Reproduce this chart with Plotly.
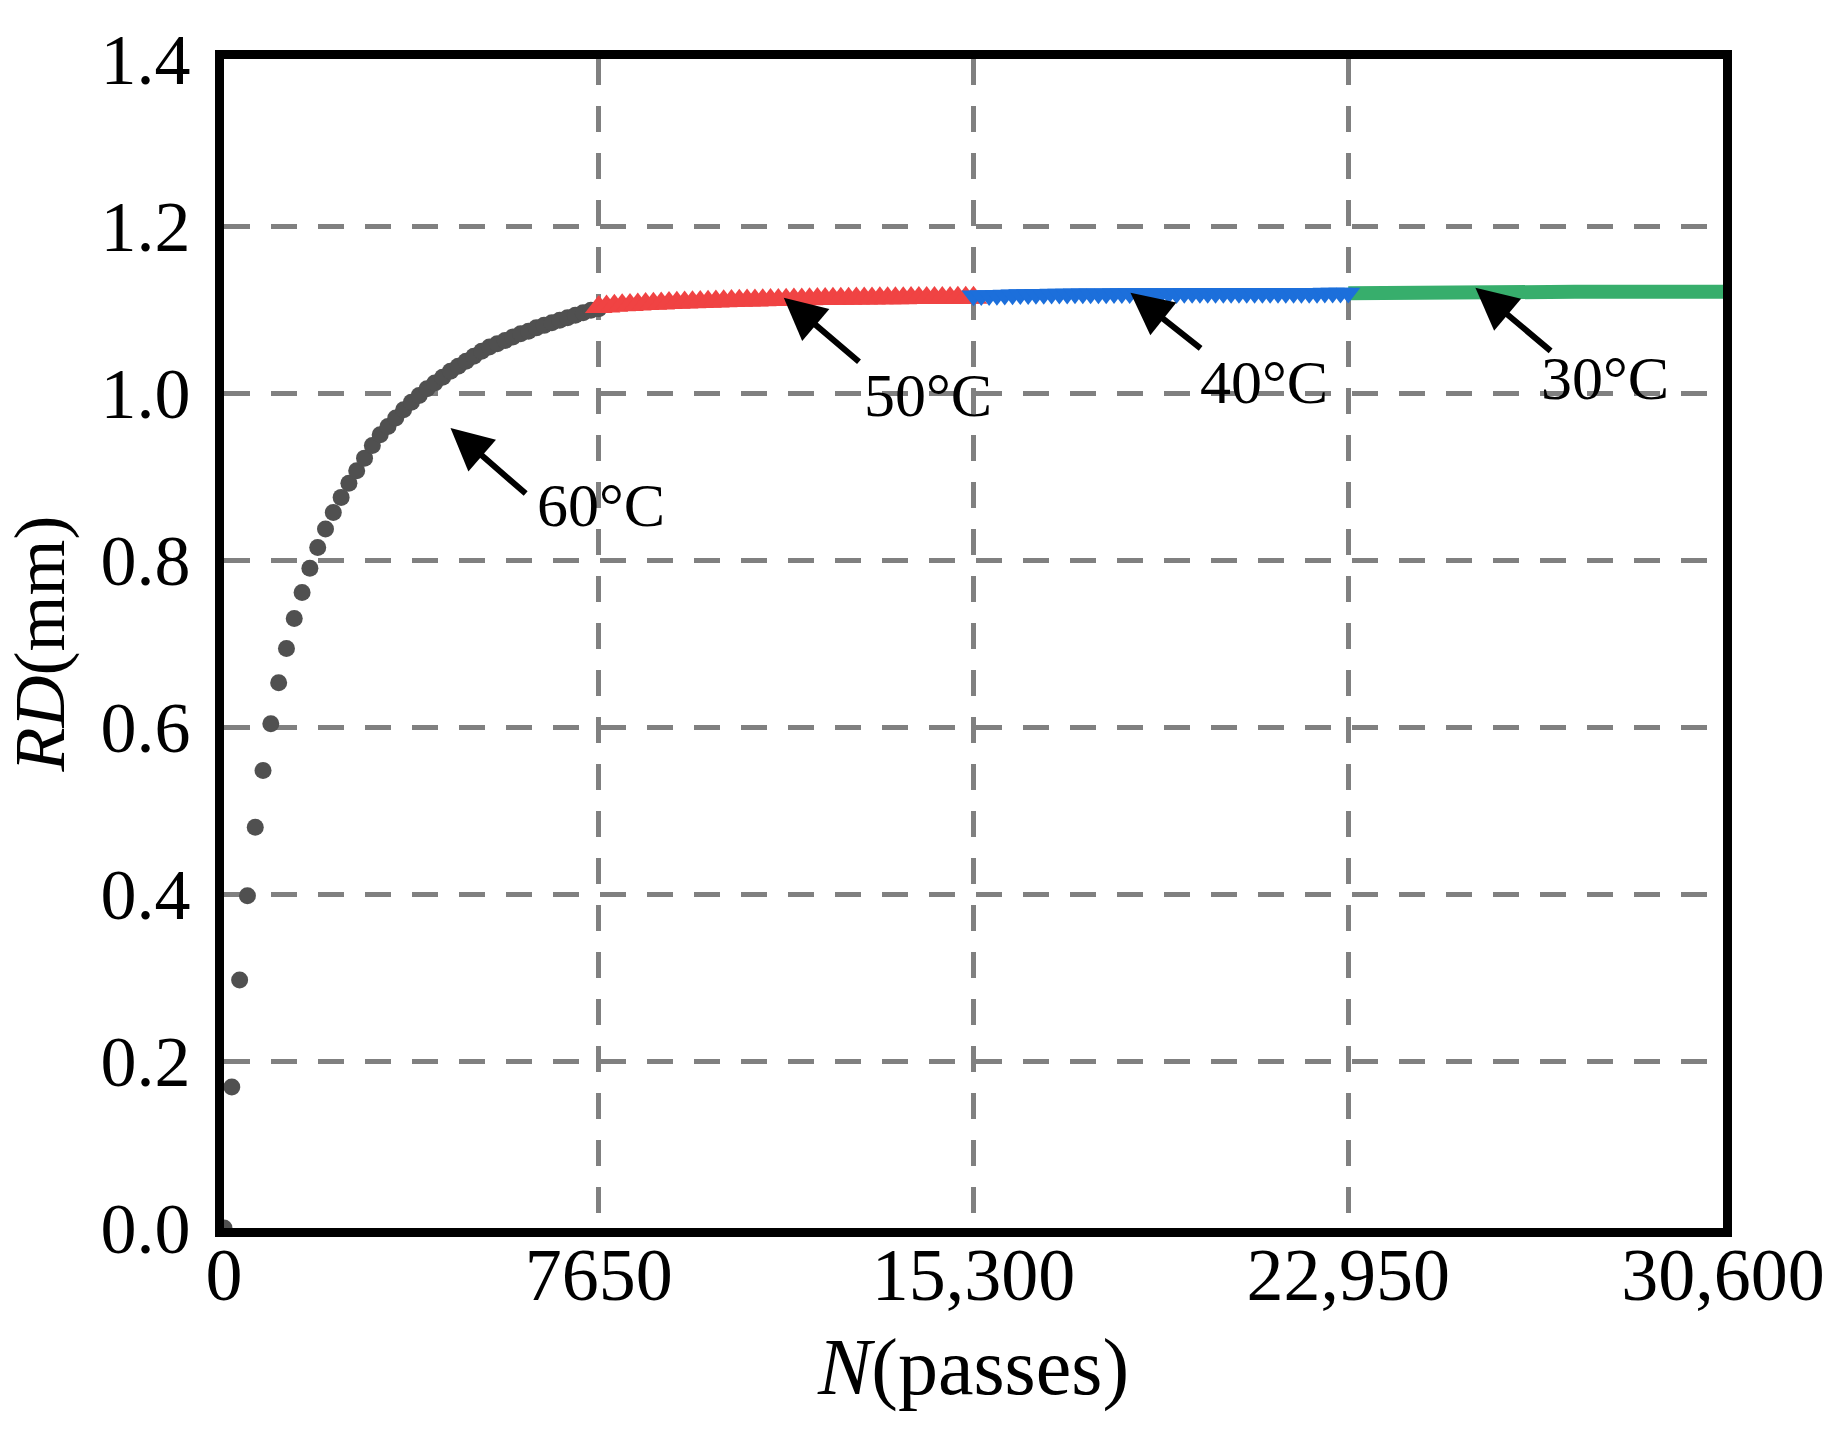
import plotly.graph_objects as go

# ---------------- data ----------------
N_60 = [0, 159, 319, 478, 638, 797, 956, 1116, 1275, 1434, 1594, 1753, 1913, 2072,
        2231, 2391, 2550, 2709, 2869, 3028, 3188, 3347, 3506, 3666, 3825, 3984, 4144,
        4303, 4463, 4622, 4781, 4941, 5100, 5259, 5419, 5578, 5738, 5897, 6056, 6216,
        6375, 6534, 6694, 6853, 7013, 7172, 7331, 7491, 7650]
RD_60 = [0.000, 0.169, 0.297, 0.398, 0.480, 0.548, 0.604, 0.653, 0.694, 0.730,
         0.761, 0.790, 0.815, 0.837, 0.857, 0.875, 0.892, 0.907, 0.922, 0.937,
         0.950, 0.960, 0.970, 0.980, 0.989, 0.997, 1.005, 1.012, 1.019, 1.026,
         1.032, 1.038, 1.044, 1.050, 1.055, 1.059, 1.063, 1.067, 1.071, 1.074,
         1.078, 1.081, 1.084, 1.087, 1.090, 1.093, 1.096, 1.099, 1.101]

N_50 = [n + 7650 for n in N_60]
RD_50 = [1.1030, 1.1037, 1.1044, 1.1050, 1.1055, 1.1060, 1.1065, 1.1069, 1.1073, 1.1077,
         1.1081, 1.1084, 1.1087, 1.1090, 1.1093, 1.1096, 1.1099, 1.1101, 1.1104, 1.1107,
         1.1109, 1.1111, 1.1113, 1.1115, 1.1117, 1.1119, 1.1121, 1.1123, 1.1125, 1.1127,
         1.1128, 1.1129, 1.1130, 1.1131, 1.1132, 1.1133, 1.1134, 1.1135, 1.1136, 1.1136,
         1.1137, 1.1137, 1.1138, 1.1138, 1.1139, 1.1139, 1.1140, 1.1140, 1.1141]

N_40 = [n + 15300 for n in N_60]
RD_40 = [1.1165, 1.1167, 1.1169, 1.1172, 1.1175, 1.1177, 1.1179, 1.1181, 1.1183, 1.1184,
         1.1185, 1.1186, 1.1187, 1.1188, 1.1189, 1.1189, 1.1190, 1.1190, 1.1191, 1.1191,
         1.1192, 1.1192, 1.1192, 1.1193, 1.1193, 1.1193, 1.1193, 1.1194, 1.1194, 1.1194,
         1.1194, 1.1194, 1.1195, 1.1195, 1.1195, 1.1195, 1.1195, 1.1195, 1.1196, 1.1196,
         1.1196, 1.1196, 1.1196, 1.1196, 1.1196, 1.1197, 1.1197, 1.1197, 1.1197]

N_30 = [n + 22950 for n in N_60]
RD_30 = [1.1194, 1.1196, 1.1198, 1.1200, 1.1202, 1.1204, 1.1205, 1.1206, 1.1207, 1.1208,
         1.1208, 1.1209, 1.1209, 1.1209, 1.1210, 1.1210, 1.1210, 1.1210, 1.1210, 1.1211,
         1.1211, 1.1211, 1.1211, 1.1211, 1.1211, 1.1211, 1.1212, 1.1212, 1.1212, 1.1212,
         1.1212, 1.1212, 1.1212, 1.1212, 1.1212, 1.1212, 1.1212, 1.1212, 1.1212, 1.1212,
         1.1212, 1.1212, 1.1212, 1.1212, 1.1212, 1.1212, 1.1212, 1.1212, 1.1212]

x_tickvals = [0, 7650, 15300, 22950, 30600]
x_ticktext = ["0", "7650", "15,300", "22,950", "30,600"]
y_tickvals = [0.0, 0.2, 0.4, 0.6, 0.8, 1.0, 1.2, 1.4]

# annotation labels: (label, arrow tip N, tip RD, tail N, tail RD, text N, text RD)
labels = ["60°C", "50°C", "40°C", "30°C"]
arrow_tip_N = [4624, 11427, 18504, 25546]
arrow_tip_RD = [0.958, 1.114, 1.120, 1.126]
arrow_tail_N = [6189, 12993, 19967, 27112]
arrow_tail_RD = [0.878, 1.036, 1.052, 1.049]
label_N = [7686, 14379, 21220, 28200]
label_RD = [0.866, 0.998, 1.013, 1.018]

FONT = "Liberation Serif, Times New Roman, serif"

fig = go.Figure()
fig.add_trace(go.Scatter(x=N_60, y=RD_60, mode="markers", name="60°C",
                         marker=dict(symbol="circle", size=17, color="#505050"),
                         cliponaxis=False))
fig.add_trace(go.Scatter(x=N_30, y=RD_30, mode="lines", name="30°C",
                         line=dict(color="#37AE6C", width=14)))
fig.add_trace(go.Scatter(x=N_50, y=RD_50, mode="markers", name="50°C",
                         marker=dict(symbol="triangle-up", size=24, color="#F04343")))
fig.add_trace(go.Scatter(x=N_40, y=RD_40, mode="markers", name="40°C",
                         marker=dict(symbol="triangle-down", size=21, color="#1C6FDB")))

annotations = []
for i in range(len(labels)):
    annotations.append(dict(x=arrow_tip_N[i], y=arrow_tip_RD[i], xref="x", yref="y",
                            ax=arrow_tail_N[i], ay=arrow_tail_RD[i], axref="x", ayref="y",
                            text="", showarrow=True, arrowhead=2, arrowsize=1.4,
                            arrowwidth=6, arrowcolor="black"))
    annotations.append(dict(x=label_N[i], y=label_RD[i], xref="x", yref="y",
                            text=labels[i], showarrow=False,
                            font=dict(family=FONT, size=62, color="black")))

fig.update_layout(
    width=1845, height=1435,
    margin=dict(l=224, r=122, t=59, b=207),
    paper_bgcolor="white", plot_bgcolor="white",
    showlegend=False,
    annotations=annotations,
    font=dict(family=FONT, color="black"),
)
fig.update_xaxes(range=[0, 30600], tickvals=x_tickvals, ticktext=x_ticktext,
                 showgrid=True, gridcolor="#808080", gridwidth=4.5, griddash="26px,21px",
                 showline=True, linecolor="black", linewidth=9, mirror=True,
                 ticks="", zeroline=False, tickfont=dict(family=FONT, size=74),
                 ticklabelstandoff=-26,
                 title=dict(text="<i>N</i>(passes)", font=dict(family=FONT, size=80),
                            standoff=27))
fig.update_yaxes(range=[0, 1.4], tickvals=y_tickvals, tickformat=".1f",
                 showgrid=True, gridcolor="#808080", gridwidth=4.5, griddash="26px,21px",
                 showline=True, linecolor="black", linewidth=9, mirror=True,
                 ticks="", zeroline=False, tickfont=dict(family=FONT, size=72),
                 ticklabelstandoff=10,
                 title=dict(text="<i>RD</i>(mm)", font=dict(family=FONT, size=72),
                            standoff=16))

fig.write_html("out.html")
